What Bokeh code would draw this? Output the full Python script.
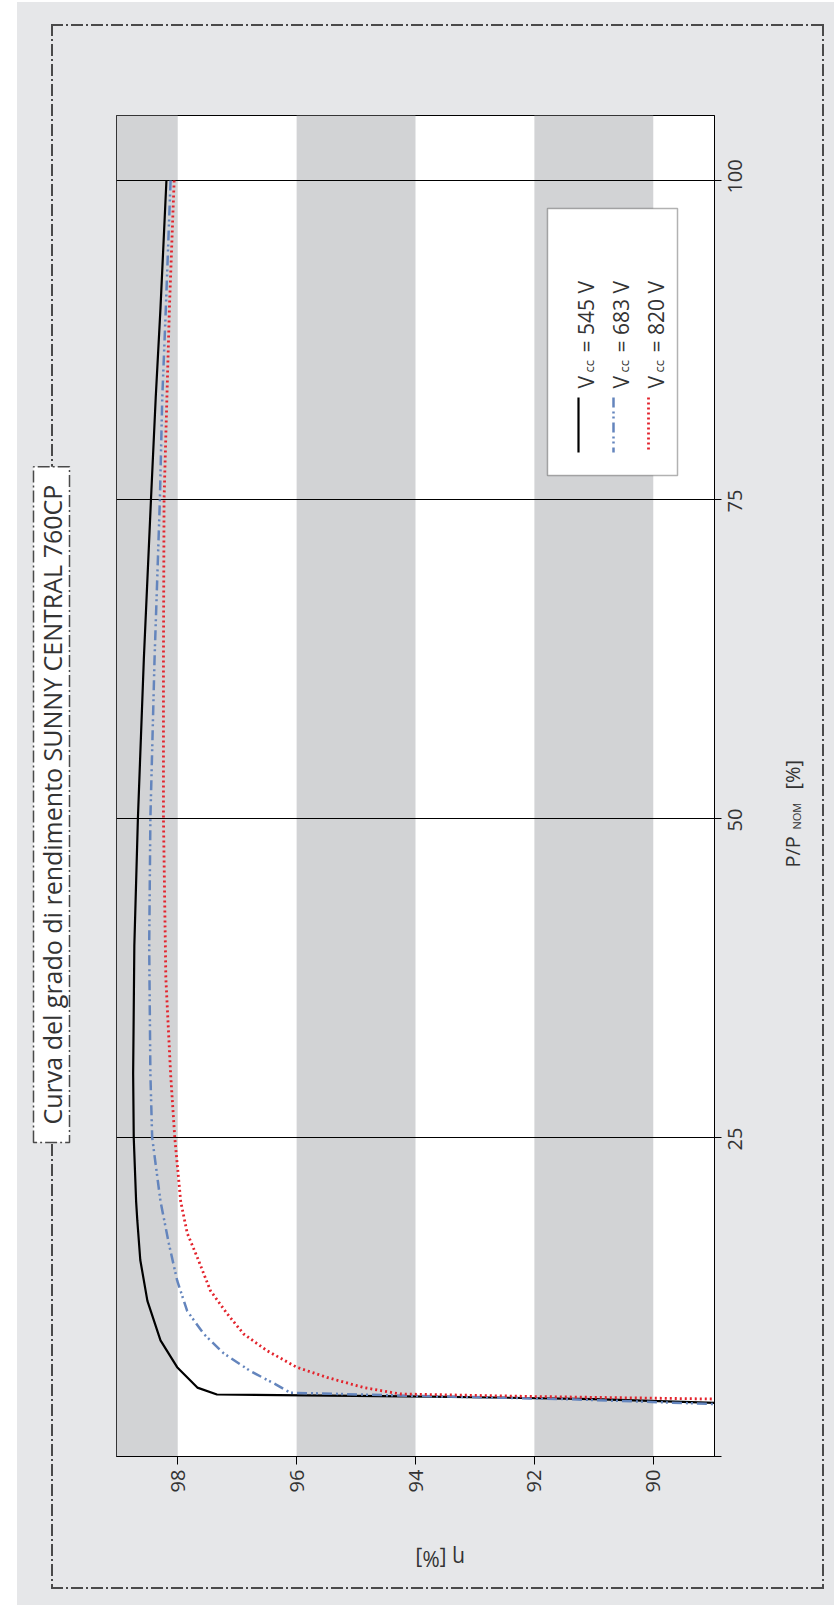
import math
from bokeh.plotting import figure
from bokeh.models import (Range1d, FixedTicker, Label, BoxAnnotation, Title, LinearAxis)
from bokeh.embed import file_html
from bokeh.resources import INLINE

# ---------------- data ----------------
title_text = "Curva del grado di rendimento SUNNY CENTRAL 760CP"
p_ticks = [0, 25, 50, 75, 100]          # P/P_NOM [%]
eta_ticks = [90, 92, 94, 96, 98]        # efficiency [%]
band_hi = [100, 96, 92]                 # grey bands (eta)
band_lo = [98, 94, 90]

# V_cc = 545 V
p545 = [100, 90, 83, 75, 62.5, 50, 40, 30, 25, 20, 18.5, 15.4, 12.2, 9.1, 7.0, 5.4, 4.86, 4.7, 4.5, 4.2]
eta545 = [98.19, 98.29, 98.37, 98.45, 98.57, 98.67, 98.73, 98.75, 98.74, 98.70, 98.68, 98.63, 98.51, 98.29,
          98.01, 97.67, 97.34, 93.75, 91.0, 88.9]
# V_cc = 683 V
p683 = [100, 90, 83, 75, 62.5, 50, 40, 30, 25, 20, 16.7, 13.8, 11.4, 9.6, 8.1, 6.7, 5.6, 5.0, 4.75, 4.5, 4.1]
eta683 = [98.12, 98.20, 98.26, 98.30, 98.39, 98.46, 98.48, 98.46, 98.43, 98.29, 98.15, 98.01, 97.84, 97.56,
          97.23, 96.78, 96.33, 96.11, 94.0, 91.5, 88.9]
# V_cc = 820 V
p820 = [100, 90, 75, 62.5, 50, 37.5, 30, 25, 20, 17.5, 15.6, 13.0, 11.2, 9.6, 8.3, 7.0, 6.2, 5.4, 4.9, 4.7, 4.5]
eta820 = [98.06, 98.14, 98.23, 98.24, 98.24, 98.20, 98.12, 98.05, 97.95, 97.84, 97.67, 97.45, 97.17, 96.89,
          96.50, 96.00, 95.49, 94.87, 94.26, 92.0, 88.9]

legend_values = ["545 V", "683 V", "820 V"]
series_colors = ["black", "#6485bd", "#e3232c"]
series_dash = ["solid", "10 4 2 3 2 4", "2 3"]
series_width = [2.2, 2.5, 2.8]

# ---------------- layout (page pixels == canvas pixels) ----------------
W, H = 834, 1605
FL, FR, FT, FB = 116, 714, 115, 1456      # plot frame
ETA_MAX, ETA_MIN = 99.03, 88.97
P_MIN, P_MAX = 0.0, 105.1
FONT = "Open Sans"
TXT = "#333333"
PAGE = "#e6e7e9"
BAND = "#d2d3d5"
DASHDOT = "12 3 2 3"
BORDER = "#4a4a4a"


def X(px):
    return ETA_MAX + (px - FL) * (ETA_MIN - ETA_MAX) / (FR - FL)


def Y(py):
    return P_MIN + (FB - py) * (P_MAX - P_MIN) / (FB - FT)


def set_if(obj, name, val):
    try:
        setattr(obj, name, val)
    except Exception:
        pass


def clabel(x, y, text, size, angle=math.pi / 2, align="left", baseline="alphabetic"):
    return Label(x=x, y=y, x_units="canvas", y_units="canvas", text=text, angle=angle,
                 text_align=align, text_baseline=baseline, text_font=FONT,
                 text_font_size=f"{size}px", text_color=TXT)


p = figure(width=W, height=H,
           x_range=Range1d(ETA_MAX, ETA_MIN), y_range=Range1d(P_MIN, P_MAX),
           output_backend="svg", toolbar_location=None,
           x_axis_location="below", y_axis_location="right",
           min_border_left=FL, min_border_right=W - FR,
           min_border_top=FT, min_border_bottom=H - FB)
p.background_fill_color = "white"
p.border_fill_color = None

# page background with the dash-dot frame (CSS on the plot's host element)
hpat = (f"repeating-linear-gradient(to right, {BORDER} 0px 12px, transparent 12px 15px, "
        f"{BORDER} 15px 17px, transparent 17px 20px)")
vpat = hpat.replace("to right", "to bottom")
p.styles = {
    "background-color": PAGE,
    "background-image": ", ".join(["linear-gradient(white, white)", "linear-gradient(white, white)",
                                   hpat, hpat, vpat, vpat]),
    "background-position": "0px 0px, 0px 0px, 51px 24px, 51px 1587px, 51px 24px, 822px 24px",
    "background-size": "17px 100%, 100% 2px, 772px 2px, 772px 2px, 2px 1565px, 2px 1565px",
    "background-repeat": "no-repeat",
}

p.outline_line_color = "black"
p.outline_line_width = 1
p.xgrid.visible = False
p.ygrid.ticker = FixedTicker(ticks=[t for t in p_ticks if t > 0])
p.ygrid.grid_line_color = "black"
p.ygrid.grid_line_width = 1

# right side: tick marks (main axis), tick labels centred on the ticks, axis title
LAB_SHIFT = 13 * (P_MAX - P_MIN) / (FB - FT)
p.extra_y_ranges = {"lab": Range1d(P_MIN + LAB_SHIFT, P_MAX + LAB_SHIFT)}
ylab = LinearAxis(y_range_name="lab")
p.add_layout(ylab, "right")
ytitle = LinearAxis()
p.add_layout(ytitle, "right")
ynom = LinearAxis()
p.add_layout(ynom, "right")

for ax, ticks, tout, stand, fs in ((p.xaxis[0], eta_ticks, 8, 5, 20), (p.yaxis[0], p_ticks, 7, 0, 20),
                                   (ylab, p_ticks, 0, 14, 20),
                                   (ytitle, [Y(867), Y(789)], 0, 40, 20),
                                   (ynom, [Y(829)], 0, -26, 11)):
    ax.ticker = FixedTicker(ticks=ticks, minor_ticks=[])
    ax.major_label_orientation = math.pi / 2
    ax.major_tick_out = tout
    ax.major_tick_in = 0
    ax.minor_tick_out = 0
    ax.minor_tick_in = 0
    ax.major_label_standoff = stand
    ax.major_label_text_font = FONT
    ax.major_label_text_font_size = f"{fs}px"
    ax.major_label_text_color = TXT
    ax.axis_line_color = "black"
    ax.major_tick_line_color = "black"
    ax.axis_label_text_font = FONT
    ax.axis_label_text_font_style = "normal"
    ax.axis_label_text_color = TXT
    ax.axis_label_text_font_size = "21px"
p.yaxis[0].major_label_overrides = {t: "" for t in p_ticks}
for ax in (ylab, ytitle, ynom):
    ax.axis_line_color = None
    ax.major_tick_line_color = None
ytitle.major_label_overrides = {Y(867): "P/P", Y(789): "[%]"}
ynom.major_label_overrides = {Y(829): "NOM"}

p.xaxis[0].axis_label = "η [%]"
p.xaxis[0].axis_label_standoff = 64
set_if(p.xaxis[0], "axis_label_orientation", math.pi)

# title (left side, boxed)
title = Title(text=title_text, align="left", vertical_align="top", offset=314, standoff=22,
              text_font=FONT, text_font_size="25px", text_font_style="normal", text_color=TXT)
set_if(title, "background_fill_color", "white")
set_if(title, "border_line_color", BORDER)
set_if(title, "border_line_width", 1.5)
set_if(title, "border_line_dash", DASHDOT)
set_if(title, "padding", (18, 1))
p.add_layout(title, "left")

# grey bands
for hi, lo in zip(band_hi, band_lo):
    p.add_layout(BoxAnnotation(left=min(hi, ETA_MAX), right=lo, fill_color=BAND, fill_alpha=1,
                               line_color=None, level="image"))

# curves
for pv, ev, col, dash, lw in zip((p545, p683, p820), (eta545, eta683, eta820),
                                  series_colors, series_dash, series_width):
    p.line(ev, pv, line_color=col, line_width=lw, line_dash=dash)

# legend
p.add_layout(BoxAnnotation(left=X(547), right=X(677), top=Y(208), bottom=Y(475), fill_color="white",
                           fill_alpha=1, line_color="black", line_width=1.5, level="underlay"))
for i, (val, col, dash, lw) in enumerate(zip(legend_values, series_colors, series_dash, series_width)):
    lx = 578 + 35 * i
    bx = 585 + 35 * i
    p.line([X(lx), X(lx)], [Y(397), Y(452)], line_color=col, line_width=lw, line_dash=dash)
    p.add_layout(clabel(bx, 388, "V", 21))
    p.add_layout(clabel(bx + 3, 372, "cc", 13))
    p.add_layout(clabel(bx, 352, "= " + val, 21))

open("out.html", "w").write(file_html(p, INLINE))
